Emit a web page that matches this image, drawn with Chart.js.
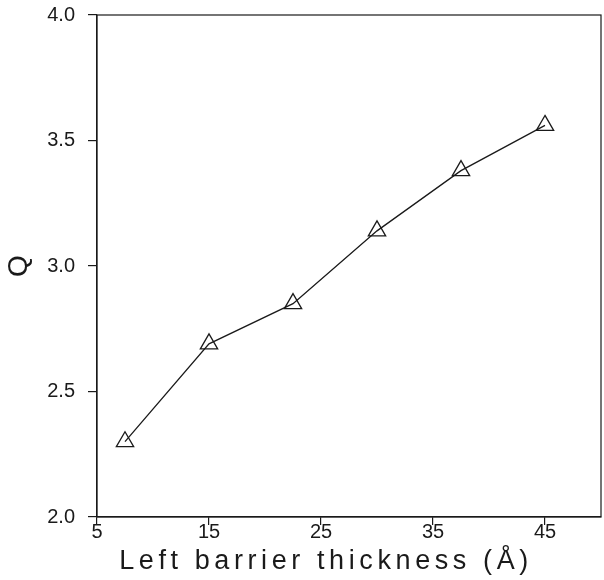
<!DOCTYPE html>
<html>
<head>
<meta charset="utf-8">
<script src="https://cdn.jsdelivr.net/npm/chart.js@4.4.1/dist/chart.umd.min.js"></script>
<style>
  html, body { margin: 0; padding: 0; background: #fff; }
  #wrap { width: 604px; height: 580px; }
</style>
</head>
<body>
<div id="wrap"><canvas id="c" width="604" height="580"></canvas></div>
<script>
const thickness = [7.5, 15, 22.5, 30, 37.5, 45];
const qValues = [2.30, 2.69, 2.85, 3.14, 3.38, 3.56];
const xTicks = [5, 15, 25, 35, 45];
const yTicks = [2.0, 2.5, 3.0, 3.5, 4.0];
const xTitle = 'Left barrier thickness (Å)';
const yTitle = 'Q';

const FONT = '"Liberation Sans", "DejaVu Sans", sans-serif';
const INK = '#1a1a1a';

const framePlugin = {
  id: 'frame',
  afterDraw(chart) {
    const { ctx, chartArea: a } = chart;
    ctx.save();
    ctx.strokeStyle = INK;
    ctx.lineWidth = 1.2;
    ctx.strokeRect(a.left, a.top, a.right - a.left, a.bottom - a.top);
    ctx.fillStyle = INK;
    ctx.font = '27px ' + FONT;
    ctx.letterSpacing = '4.6px';
    ctx.textAlign = 'center';
    ctx.textBaseline = 'middle';
    ctx.fillText(xTitle, (a.left + a.right) / 2 - 23, 562);
    ctx.restore();
  }
};

new Chart(document.getElementById('c'), {
  type: 'scatter',
  data: {
    datasets: [{
      data: thickness.map((x, i) => ({ x: x, y: qValues[i] })),
      showLine: true,
      borderColor: INK,
      borderWidth: 1.3,
      pointStyle: 'triangle',
      pointRadius: 10,
      pointHoverRadius: 10,
      pointBorderWidth: 1.3,
      pointBorderColor: INK,
      pointBackgroundColor: 'rgba(0,0,0,0)'
    }]
  },
  options: {
    responsive: false,
    animation: false,
    events: [],
    layout: { autoPadding: false, padding: { top: 15, right: 3, left: 0, bottom: 0 } },
    plugins: { legend: { display: false }, tooltip: { enabled: false } },
    scales: {
      x: {
        type: 'linear',
        min: 5, max: 50,
        afterBuildTicks(scale) { scale.ticks = xTicks.map(v => ({ value: v })); },
        afterFit(scale) {
          scale.height = 63;
          scale.paddingLeft = 0; scale.paddingRight = 0;
        },
        grid: { display: true, drawOnChartArea: false, drawTicks: true, tickLength: 8, color: INK, lineWidth: 1.2 },
        border: { display: true, color: INK, width: 1.2 },
        ticks: {
          color: INK, padding: -5, maxRotation: 0,
          font: { family: FONT, size: 20 },
          callback: v => String(v)
        },
        title: { display: false }
      },
      y: {
        type: 'linear',
        min: 2.0, max: 4.0,
        afterBuildTicks(scale) { scale.ticks = yTicks.map(v => ({ value: v })); },
        afterFit(scale) {
          scale.width = 97;
          scale.paddingTop = 0; scale.paddingBottom = 0;
        },
        grid: { display: true, drawOnChartArea: false, drawTicks: true, tickLength: 9, color: INK, lineWidth: 1.2 },
        border: { display: true, color: INK, width: 1.2 },
        ticks: {
          color: INK, padding: 13,
          font: { family: FONT, size: 20 },
          callback: v => Number(v).toFixed(1)
        },
        title: {
          display: true, text: yTitle, color: INK,
          font: { family: FONT, size: 28 },
          padding: { top: 2, bottom: 0 }
        }
      }
    }
  },
  plugins: [framePlugin]
});
</script>
</body>
</html>
